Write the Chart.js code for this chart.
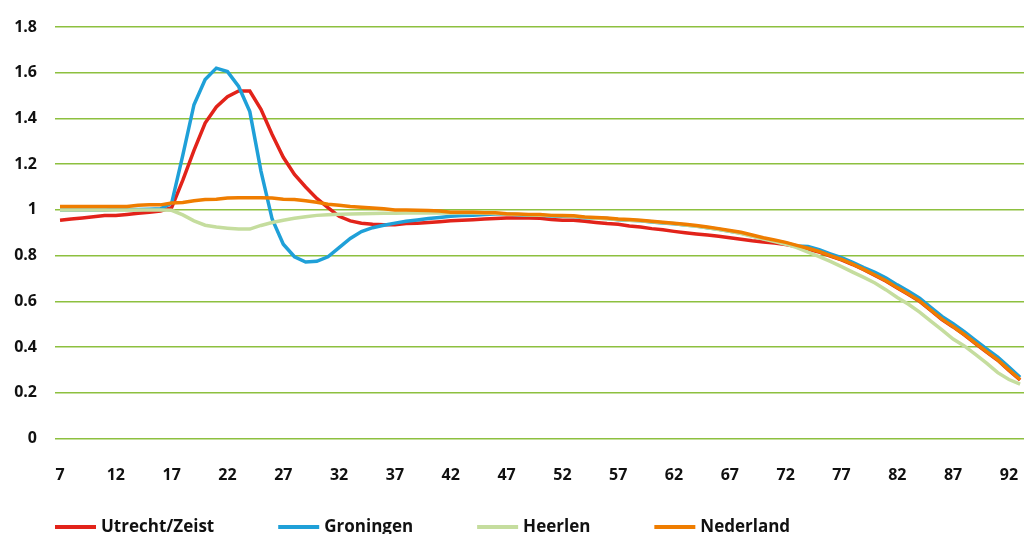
<!DOCTYPE html>
<html>
<head>
<meta charset="utf-8">
<script src="https://cdn.jsdelivr.net/npm/chart.js@4.4.1/dist/chart.umd.min.js"></script>
<style>
  html, body { margin: 0; padding: 0; background: #fff; }
  canvas { display: block; }
</style>
</head>
<body>
<canvas id="chart" width="1024" height="534"></canvas>
<script>
// ages 7..93
const ages = [];
for (let a = 7; a <= 93; a++) ages.push(a);

const xTickLabels = [7, 12, 17, 22, 27, 32, 37, 42, 47, 52, 57, 62, 67, 72, 77, 82, 87, 92];
const yTickLabels = ['0', '0.2', '0.4', '0.6', '0.8', '1', '1.2', '1.4', '1.6', '1.8'];

const utrecht = [
  0.955, 0.96, 0.965, 0.97, 0.975, 0.975, 0.98, 0.985, 0.99, 0.995,
  1.01, 1.13, 1.26, 1.38, 1.45, 1.495, 1.52, 1.52, 1.44, 1.33,
  1.23, 1.155, 1.10, 1.05, 1.01, 0.972, 0.952, 0.942, 0.937, 0.935,
  0.935, 0.94, 0.942, 0.945, 0.948, 0.952, 0.955, 0.957, 0.96, 0.962,
  0.964, 0.964, 0.964, 0.963, 0.958, 0.955, 0.955, 0.95, 0.945, 0.94,
  0.937, 0.93, 0.925, 0.918, 0.913, 0.906, 0.90, 0.895, 0.89, 0.885,
  0.878, 0.872, 0.865, 0.86, 0.855, 0.848, 0.84, 0.828, 0.815, 0.798,
  0.781, 0.761, 0.738, 0.713, 0.688, 0.658, 0.63, 0.60, 0.56, 0.52,
  0.488, 0.453, 0.415, 0.378, 0.342, 0.298, 0.256
];

const groningen = [
  1.0, 1.0, 1.0, 1.0, 1.0, 1.002, 1.002, 1.002, 1.003, 1.005,
  1.03, 1.24, 1.46, 1.57, 1.62, 1.605, 1.54, 1.43, 1.17, 0.96,
  0.85, 0.795, 0.772, 0.775, 0.795, 0.835, 0.875, 0.905, 0.922, 0.933,
  0.942, 0.95, 0.956, 0.962, 0.967, 0.972, 0.975, 0.977, 0.98, 0.982,
  0.982, 0.979, 0.977, 0.977, 0.973, 0.972, 0.971, 0.966, 0.964, 0.962,
  0.957, 0.955, 0.952, 0.947, 0.943, 0.939, 0.934, 0.929, 0.922, 0.915,
  0.907, 0.899, 0.887, 0.875, 0.865, 0.855, 0.842, 0.84, 0.826, 0.808,
  0.791, 0.771, 0.748, 0.727, 0.702, 0.672, 0.644, 0.614, 0.574, 0.534,
  0.502, 0.467, 0.429, 0.392, 0.356, 0.312, 0.268
];

const heerlen = [
  0.999, 0.999, 0.999, 0.999, 0.999, 0.999, 0.999, 0.999, 0.999, 0.999,
  0.998, 0.978, 0.952, 0.933, 0.925, 0.92, 0.916, 0.916, 0.932, 0.945,
  0.955, 0.963, 0.97, 0.976, 0.979, 0.981, 0.982, 0.983, 0.984, 0.985,
  0.985, 0.986, 0.986, 0.986, 0.986, 0.986, 0.986, 0.986, 0.985, 0.984,
  0.982, 0.98, 0.978, 0.977, 0.975, 0.974, 0.972, 0.968, 0.963, 0.961,
  0.958, 0.955, 0.952, 0.948, 0.944, 0.94, 0.934, 0.928, 0.922, 0.914,
  0.906, 0.897, 0.885, 0.872, 0.862, 0.85, 0.835, 0.815, 0.796, 0.775,
  0.752, 0.728, 0.705, 0.68, 0.65, 0.617, 0.587, 0.553, 0.513, 0.475,
  0.435, 0.405, 0.368, 0.33, 0.288, 0.258, 0.238
];

const nederland = [
  1.015, 1.015, 1.015, 1.015, 1.015, 1.015, 1.015, 1.02, 1.022, 1.022,
  1.03, 1.032, 1.04, 1.045, 1.047, 1.052, 1.053, 1.053, 1.053, 1.052,
  1.047, 1.045, 1.04, 1.033, 1.025, 1.02, 1.015, 1.012, 1.008, 1.005,
  1.0, 1.0, 0.998, 0.997, 0.995, 0.99, 0.99, 0.99, 0.988, 0.987,
  0.983, 0.982, 0.98, 0.98, 0.976, 0.975, 0.974, 0.969, 0.967, 0.965,
  0.96, 0.958, 0.955, 0.95, 0.946, 0.942, 0.937, 0.932, 0.925, 0.918,
  0.91, 0.902, 0.89, 0.878, 0.868, 0.858, 0.845, 0.832, 0.818, 0.80,
  0.783, 0.763, 0.74, 0.715, 0.69, 0.66, 0.632, 0.602, 0.562, 0.522,
  0.49, 0.455, 0.417, 0.38, 0.344, 0.30, 0.258
];

const seriesNames = ['Utrecht/Zeist', 'Groningen', 'Heerlen', 'Nederland'];
const seriesColors = ['#e2231a', '#1fa0d8', '#c5dd9e', '#ef7d00'];
const seriesValues = [utrecht, groningen, heerlen, nederland];

const FONT = '"Open Sans", sans-serif';

// legend drawn under the plot, lines + bold labels
const bottomLegend = {
  id: 'bottomLegend',
  afterDraw(chart) {
    const ctx = chart.ctx;
    ctx.save();
    ctx.font = 'bold 17px ' + FONT;
    ctx.textBaseline = 'alphabetic';
    let x = chart.chartArea.left;
    const y = 527;
    chart.data.datasets.forEach(ds => {
      ctx.fillStyle = ds.borderColor;
      ctx.fillRect(x, y - 2, 41, 4);
      x += 46;
      ctx.fillStyle = '#111';
      ctx.fillText(ds.label, x, y + 5);
      x += ctx.measureText(ds.label).width + 64;
    });
    ctx.restore();
  }
};

new Chart(document.getElementById('chart'), {
  type: 'line',
  data: {
    datasets: seriesNames.map((name, i) => ({
      label: name,
      data: ages.map((a, j) => ({ x: a, y: seriesValues[i][j] })),
      borderColor: seriesColors[i],
      backgroundColor: seriesColors[i],
      borderWidth: 3.5,
      pointRadius: 0,
      tension: 0,
      fill: false,
      order: 4 - i
    }))
  },
  options: {
    responsive: false,
    animation: false,
    layout: { padding: { top: 27, right: 0, bottom: 49.5, left: 0 } },
    plugins: {
      legend: { display: false },
      tooltip: { enabled: false }
    },
    scales: {
      x: {
        type: 'linear',
        min: 6.55,
        max: 93.35,
        grid: { display: false },
        border: { display: false },
        afterBuildTicks: scale => { scale.ticks = xTickLabels.map(v => ({ value: v })); },
        afterFit: scale => {
          scale.height = 46;
          scale.paddingLeft = 0;
          scale.paddingRight = 0;
        },
        ticks: {
          padding: 19,
          color: '#111',
          font: { family: FONT, size: 16, weight: 'bold' },
          maxRotation: 0,
          autoSkip: false,
          callback: v => String(v)
        }
      },
      y: {
        min: 0,
        max: 1.8,
        grid: { color: '#8dc03f', lineWidth: 1.5, drawTicks: false },
        border: { display: false },
        afterFit: scale => {
          scale.width = 55;
          scale.paddingTop = 0;
          scale.paddingBottom = 0;
        },
        ticks: {
          stepSize: 0.2,
          padding: 18,
          color: '#111',
          font: { family: FONT, size: 16, weight: 'bold' },
          callback: (v, i) => yTickLabels[i]
        }
      }
    }
  },
  plugins: [bottomLegend]
});
</script>
</body>
</html>
